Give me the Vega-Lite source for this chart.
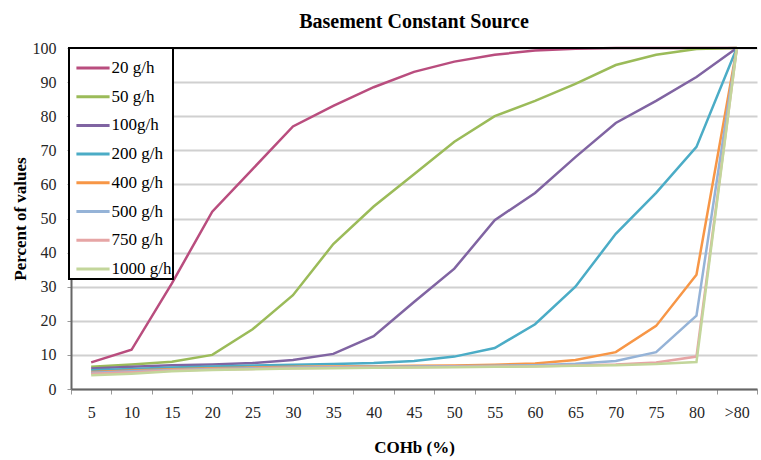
{
  "$schema": "https://vega.github.io/schema/vega-lite/v6.json",
  "autosize": {"type": "none"},
  "width": 686,
  "height": 341,
  "padding": {"left": 71, "top": 48, "right": 4, "bottom": 71},
  "background": "white",
  "config": {
    "font": "Liberation Serif",
    "view": {"stroke": null},
    "axisX": {
      "titleFont": "Liberation Serif",
      "titleFontSize": 17,
      "titleFontWeight": "bold",
      "titleColor": "black",
      "titlePadding": 19,
      "labelFont": "Liberation Serif",
      "labelFontSize": 16,
      "labelColor": "#262626",
      "labelAngle": 0,
      "labelPadding": 10,
      "tickBand": "extent",
      "tickColor": "#999999",
      "tickSize": 5,
      "domainColor": "#666666",
      "domainWidth": 2,
      "grid": false
    },
    "axisY": {
      "titleFont": "Liberation Serif",
      "titleFontSize": 17,
      "titleFontWeight": "bold",
      "titleColor": "black",
      "titlePadding": 3,
      "labelFont": "Liberation Serif",
      "labelFontSize": 16,
      "labelColor": "#262626",
      "labelPadding": 11,
      "labelOverlap": false,
      "tickCount": 20,
      "tickColor": "#999999",
      "tickSize": 4,
      "domainColor": "#666666",
      "domainWidth": 2,
      "gridColor": "#d0d0d0",
      "gridWidth": 2
    }
  },
  "title": {
    "text": "Basement Constant Source",
    "font": "Liberation Serif",
    "fontSize": 20,
    "fontWeight": "bold",
    "color": "black",
    "offset": 8
  },
  "data": {
    "values": [
      {"s":"20 g/h","c":"5","p":7.8},{"s":"20 g/h","c":"10","p":11.5},{"s":"20 g/h","c":"15","p":31},{"s":"20 g/h","c":"20","p":52},{"s":"20 g/h","c":"25","p":64.5},{"s":"20 g/h","c":"30","p":77},{"s":"20 g/h","c":"35","p":83},{"s":"20 g/h","c":"40","p":88.5},{"s":"20 g/h","c":"45","p":93},{"s":"20 g/h","c":"50","p":96},{"s":"20 g/h","c":"55","p":98},{"s":"20 g/h","c":"60","p":99.3},{"s":"20 g/h","c":"65","p":99.8},{"s":"20 g/h","c":"70","p":100},{"s":"20 g/h","c":"75","p":100},{"s":"20 g/h","c":"80","p":100},{"s":"20 g/h","c":">80","p":100},
      {"s":"50 g/h","c":"5","p":6.5},{"s":"50 g/h","c":"10","p":7.2},{"s":"50 g/h","c":"15","p":8},{"s":"50 g/h","c":"20","p":10},{"s":"50 g/h","c":"25","p":17.5},{"s":"50 g/h","c":"30","p":27.5},{"s":"50 g/h","c":"35","p":42.5},{"s":"50 g/h","c":"40","p":53.5},{"s":"50 g/h","c":"45","p":63},{"s":"50 g/h","c":"50","p":72.5},{"s":"50 g/h","c":"55","p":80},{"s":"50 g/h","c":"60","p":84.5},{"s":"50 g/h","c":"65","p":89.5},{"s":"50 g/h","c":"70","p":95},{"s":"50 g/h","c":"75","p":98},{"s":"50 g/h","c":"80","p":99.7},{"s":"50 g/h","c":">80","p":100},
      {"s":"100g/h","c":"5","p":6},{"s":"100g/h","c":"10","p":6.5},{"s":"100g/h","c":"15","p":7},{"s":"100g/h","c":"20","p":7.2},{"s":"100g/h","c":"25","p":7.6},{"s":"100g/h","c":"30","p":8.5},{"s":"100g/h","c":"35","p":10.3},{"s":"100g/h","c":"40","p":15.5},{"s":"100g/h","c":"45","p":25.5},{"s":"100g/h","c":"50","p":35.3},{"s":"100g/h","c":"55","p":49.5},{"s":"100g/h","c":"60","p":57.5},{"s":"100g/h","c":"65","p":68},{"s":"100g/h","c":"70","p":78},{"s":"100g/h","c":"75","p":84.5},{"s":"100g/h","c":"80","p":91.5},{"s":"100g/h","c":">80","p":100},
      {"s":"200 g/h","c":"5","p":5.5},{"s":"200 g/h","c":"10","p":5.9},{"s":"200 g/h","c":"15","p":6.3},{"s":"200 g/h","c":"20","p":6.6},{"s":"200 g/h","c":"25","p":6.9},{"s":"200 g/h","c":"30","p":7.1},{"s":"200 g/h","c":"35","p":7.3},{"s":"200 g/h","c":"40","p":7.6},{"s":"200 g/h","c":"45","p":8.2},{"s":"200 g/h","c":"50","p":9.5},{"s":"200 g/h","c":"55","p":12},{"s":"200 g/h","c":"60","p":19},{"s":"200 g/h","c":"65","p":30},{"s":"200 g/h","c":"70","p":45.5},{"s":"200 g/h","c":"75","p":57.5},{"s":"200 g/h","c":"80","p":71},{"s":"200 g/h","c":">80","p":100},
      {"s":"400 g/h","c":"5","p":5},{"s":"400 g/h","c":"10","p":5.4},{"s":"400 g/h","c":"15","p":5.8},{"s":"400 g/h","c":"20","p":6.1},{"s":"400 g/h","c":"25","p":6.3},{"s":"400 g/h","c":"30","p":6.5},{"s":"400 g/h","c":"35","p":6.6},{"s":"400 g/h","c":"40","p":6.7},{"s":"400 g/h","c":"45","p":6.8},{"s":"400 g/h","c":"50","p":6.9},{"s":"400 g/h","c":"55","p":7.1},{"s":"400 g/h","c":"60","p":7.5},{"s":"400 g/h","c":"65","p":8.5},{"s":"400 g/h","c":"70","p":10.8},{"s":"400 g/h","c":"75","p":18.5},{"s":"400 g/h","c":"80","p":33.5},{"s":"400 g/h","c":">80","p":100},
      {"s":"500 g/h","c":"5","p":4.8},{"s":"500 g/h","c":"10","p":5.2},{"s":"500 g/h","c":"15","p":5.6},{"s":"500 g/h","c":"20","p":5.9},{"s":"500 g/h","c":"25","p":6.1},{"s":"500 g/h","c":"30","p":6.3},{"s":"500 g/h","c":"35","p":6.4},{"s":"500 g/h","c":"40","p":6.5},{"s":"500 g/h","c":"45","p":6.6},{"s":"500 g/h","c":"50","p":6.7},{"s":"500 g/h","c":"55","p":6.8},{"s":"500 g/h","c":"60","p":7},{"s":"500 g/h","c":"65","p":7.4},{"s":"500 g/h","c":"70","p":8.2},{"s":"500 g/h","c":"75","p":10.8},{"s":"500 g/h","c":"80","p":21.5},{"s":"500 g/h","c":">80","p":100},
      {"s":"750 g/h","c":"5","p":4.5},{"s":"750 g/h","c":"10","p":4.9},{"s":"750 g/h","c":"15","p":5.4},{"s":"750 g/h","c":"20","p":5.7},{"s":"750 g/h","c":"25","p":5.9},{"s":"750 g/h","c":"30","p":6.1},{"s":"750 g/h","c":"35","p":6.2},{"s":"750 g/h","c":"40","p":6.3},{"s":"750 g/h","c":"45","p":6.4},{"s":"750 g/h","c":"50","p":6.5},{"s":"750 g/h","c":"55","p":6.6},{"s":"750 g/h","c":"60","p":6.7},{"s":"750 g/h","c":"65","p":6.9},{"s":"750 g/h","c":"70","p":7.2},{"s":"750 g/h","c":"75","p":7.8},{"s":"750 g/h","c":"80","p":9.5},{"s":"750 g/h","c":">80","p":100},
      {"s":"1000 g/h","c":"5","p":4},{"s":"1000 g/h","c":"10","p":4.5},{"s":"1000 g/h","c":"15","p":5.2},{"s":"1000 g/h","c":"20","p":5.6},{"s":"1000 g/h","c":"25","p":5.8},{"s":"1000 g/h","c":"30","p":6},{"s":"1000 g/h","c":"35","p":6.1},{"s":"1000 g/h","c":"40","p":6.2},{"s":"1000 g/h","c":"45","p":6.3},{"s":"1000 g/h","c":"50","p":6.4},{"s":"1000 g/h","c":"55","p":6.5},{"s":"1000 g/h","c":"60","p":6.6},{"s":"1000 g/h","c":"65","p":6.8},{"s":"1000 g/h","c":"70","p":7},{"s":"1000 g/h","c":"75","p":7.3},{"s":"1000 g/h","c":"80","p":7.9},{"s":"1000 g/h","c":">80","p":100}
    ]
  },
  "layer": [
    {
      "mark": {"type": "line", "strokeWidth": 2.5, "interpolate": "linear"},
      "encoding": {
        "x": {
          "field": "c",
          "type": "ordinal",
          "sort": ["5","10","15","20","25","30","35","40","45","50","55","60","65","70","75","80",">80"],
          "bandPosition": 0.5,
          "scale": {"type": "band", "paddingInner": 0, "paddingOuter": 0},
          "axis": {"title": "COHb (%)"}
        },
        "y": {
          "field": "p",
          "type": "quantitative",
          "scale": {"domain": [0, 100], "nice": false},
          "axis": {"title": "Percent of values", "values": [0,10,20,30,40,50,60,70,80,90,100], "tickCount": 20}
        },
        "color": {
          "field": "s",
          "type": "nominal",
          "sort": ["20 g/h","50 g/h","100g/h","200 g/h","400 g/h","500 g/h","750 g/h","1000 g/h"],
          "scale": {
            "domain": ["20 g/h","50 g/h","100g/h","200 g/h","400 g/h","500 g/h","750 g/h","1000 g/h"],
            "range": ["#b94d7e","#9bbb59","#8064a2","#4bacc6","#f79646","#95b3d7","#e6a5a5","#c3d69b"]
          },
          "legend": {
            "title": null,
            "orient": "none",
            "legendX": -2,
            "legendY": 0,
            "padding": 1.5,
            "strokeColor": "black",
            "fillColor": "white",
            "symbolType": "stroke",
            "symbolStrokeWidth": 3,
            "symbolSize": 1100,
            "symbolOffset": 4,
            "labelFont": "Liberation Serif",
            "labelFontSize": 17,
            "labelColor": "black",
            "labelOffset": 0,
            "rowPadding": 1.7,
            "encode": {"legend": {"update": {"strokeWidth": {"value": 2}}}}
          }
        }
      }
    },
    {
      "mark": {"type": "rule", "color": "black", "strokeWidth": 2},
      "encoding": {"y": {"datum": 100, "type": "quantitative", "axis": {"title": "Percent of values", "values": [0,10,20,30,40,50,60,70,80,90,100], "tickCount": 20}}}
    }
  ]
}
